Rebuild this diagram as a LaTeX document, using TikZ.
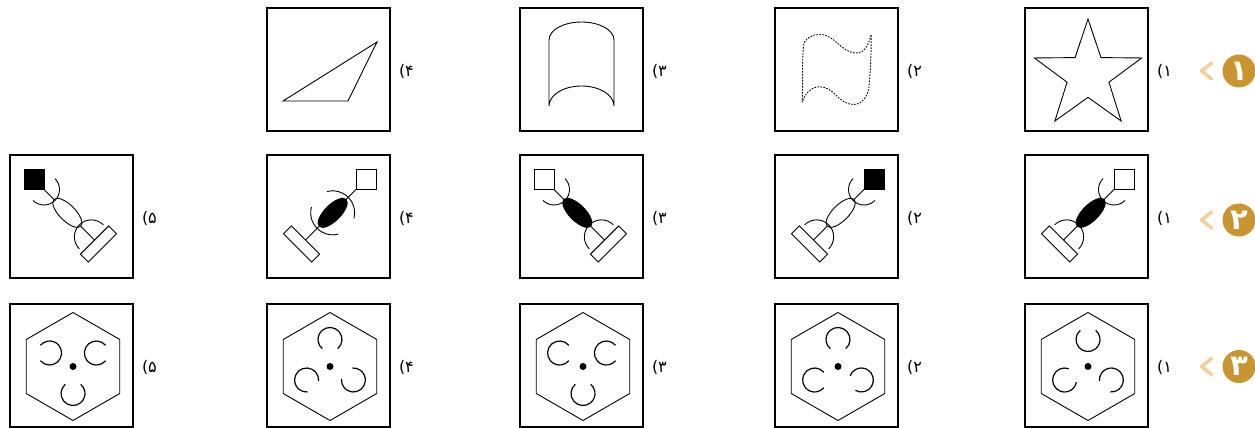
\documentclass[tikz,border=0pt]{standalone}
\usepackage{fontspec}
\newfontfamily\arabicfont[Script=Arabic]{DejaVu Sans}
\newfontfamily\labelfont{DejaVu Sans}
\TeXXeTstate=1
\usetikzlibrary{positioning}
\definecolor{qgold}{HTML}{C99530}
\definecolor{qchev}{HTML}{F2D09C}

% key figure: mirror, square fill, ellipse fill, arcs (centre/start/delta/radius)
\newcommand{\keyfig}[4]{%
  \begin{scope}[xscale=#1, shift={(27.5,27)}]
    \draw[fig, fill=#2] (0,0) rectangle (20,20);
    \begin{scope}[rotate=45]
      \draw[fig] (0,0) -- (-71.5,0);
      \draw[fig, fill=#3] (-33,0) ellipse [x radius=19, y radius=8];
      \draw[fig, fill=white] (-82.5,-20) rectangle (-71.5,20);
      \foreach \c/\a/\d/\r in {#4}
        \draw[fig] (\c,0) ++(\a:\r) arc[start angle=\a, delta angle=\d, radius=\r];
    \end{scope}
  \end{scope}}

% hexagon figure: list of arc position/gap direction
\newcommand{\hexfig}[1]{%
  \begin{scope}[shift={(1.5,-1)}]
    \draw[fig] (90:54) \foreach \a in {150,210,270,330} {-- (\a:54)} -- (30:54) -- cycle;
    \fill (0,0) circle[radius=3.5];
    \foreach \p/\g in {#1}
      \draw[fig, line width=1.2pt, shift={(\p:27)}] (\g+40:12) arc[start angle=\g+40, delta angle=280, radius=12];
  \end{scope}}

\begin{document}
\begin{tikzpicture}[x=1pt, y=1pt,
    optbox/.style={draw, line width=1.6pt, minimum size=123pt, inner sep=0pt},
    fig/.style={line width=0.9pt},
    optlabel/.style={font=\labelfont\fontsize{16}{16}\selectfont, inner sep=0pt},
    badge/.style={circle, fill=qgold, text=white, minimum size=33pt, inner sep=0pt,
      font=\arabicfont\bfseries\fontsize{29}{29}\selectfont},
    chev/.style={qchev, line width=3.5pt, line cap=round, line join=round}]
  \useasboundingbox (0,0) rectangle (1255,428);

  % boxes
  \foreach \c/\x in {1/1086.5,2/836.5,3/581.5,4/328.5}
    \node[optbox] (b1\c) at (\x,358.5) {};
  \foreach \r/\y in {2/211.5,3/62.5}
    \foreach \c/\x in {1/1086.5,2/836.5,3/581.5,4/328.5,5/71.5}
      \node[optbox] (b\r\c) at (\x,\y) {};

  % labels
  \node[optlabel, right=8pt of b11, yshift=-2pt] (l11) {(۱};
  \node[optlabel, right=8pt of b12, yshift=-2pt] (l12) {(۲};
  \node[optlabel, right=8pt of b13, yshift=-2pt] (l13) {(۳};
  \node[optlabel, right=8pt of b14, yshift=-2pt] (l14) {(۴};
  \node[optlabel, right=8pt of b21, yshift=-2pt] (l21) {(۱};
  \node[optlabel, right=8pt of b22, yshift=-2pt] (l22) {(۲};
  \node[optlabel, right=8pt of b23, yshift=-2pt] (l23) {(۳};
  \node[optlabel, right=8pt of b24, yshift=-2pt] (l24) {(۴};
  \node[optlabel, right=8pt of b25, yshift=-2pt] (l25) {(۵};
  \node[optlabel, right=8pt of b31, yshift=-2pt] (l31) {(۱};
  \node[optlabel, right=8pt of b32, yshift=-2pt] (l32) {(۲};
  \node[optlabel, right=8pt of b33, yshift=-2pt] (l33) {(۳};
  \node[optlabel, right=8pt of b34, yshift=-2pt] (l34) {(۴};
  \node[optlabel, right=8pt of b35, yshift=-2pt] (l35) {(۵};

  % question badges
  \node[badge] (q1) at (1239,357) {۱};
  \node[badge] (q2) at (1239,208) {۲};
  \node[badge] (q3) at (1239,61.5) {۳};
  \foreach \q in {q1,q2,q3}
    \draw[chev] ([shift={(-27.5,8)}]\q.center) -- ([shift={(-37.5,0)}]\q.center) -- ([shift={(-27.5,-8)}]\q.center);

  % row 1
  \begin{scope}[shift={(b11.center)}]
    \draw[fig, shift={(1.5,-5.9)}] (90:56.4) \foreach \a in {1,...,4} {-- ({54+72*\a}:22) -- ({90+72*\a}:56.4)} -- (54:22) -- cycle;
  \end{scope}
  \begin{scope}[shift={(b12.center)}]
    \draw[fig, dash pattern=on 1.6pt off 1.4pt] (-34.5,-33) .. controls (-33,-8) and (-35,10) .. (-32.5,26.5)
      to[out=60,in=180] (-17,35) to[out=0,in=175] (19,16.5) to[out=-5,in=-105] (34.7,35)
      to[out=-90,in=85] (32.4,-18.3) to[out=-100,in=0] (16.8,-35) to[out=180,in=0] (-16.8,-17.3)
      to[out=180,in=70] (-34.5,-33);
  \end{scope}
  \begin{scope}[shift={(b13.center)}]
    \draw[fig] (-32.5,-36.5) -- (-32.5,29.5) arc[start angle=180, end angle=0, x radius=32.5, y radius=18]
      -- (32.5,-36.5) arc[start angle=0, end angle=180, x radius=32.5, y radius=20];
  \end{scope}
  \begin{scope}[shift={(b14.center)}]
    \draw[fig] (-45.5,-31.5) -- (19.5,-31.5) -- (48.5,27.5) -- cycle;
  \end{scope}

  % row 2
  \begin{scope}[shift={(b21.center)}]
    \keyfig{1}{white}{black}{0/90/180/15.5, -67/-90/180/17}
  \end{scope}
  \begin{scope}[shift={(b22.center)}]
    \keyfig{1}{black}{white}{0/90/180/15.5, -67/-90/180/17}
  \end{scope}
  \begin{scope}[shift={(b23.center)}]
    \keyfig{-1}{white}{black}{0/90/180/15.5, -67/-90/180/17}
  \end{scope}
  \begin{scope}[shift={(b24.center)}]
    \keyfig{1}{white}{black}{-33/-60/120/22, -33/120/120/22}
  \end{scope}
  \begin{scope}[shift={(b25.center)}]
    \keyfig{-1}{black}{white}{0/90/180/15.5, -67/-90/180/17}
  \end{scope}

  % row 3
  \begin{scope}[shift={(b31.center)}]
    \hexfig{90/90, 210/30, 330/225}
  \end{scope}
  \begin{scope}[shift={(b32.center)}]
    \hexfig{90/270, 210/0, 330/200}
  \end{scope}
  \begin{scope}[shift={(b33.center)}]
    \hexfig{150/0, 30/0, 270/90}
  \end{scope}
  \begin{scope}[shift={(b34.center)}]
    \hexfig{90/270, 210/315, 330/135}
  \end{scope}
  \begin{scope}[shift={(b35.center)}]
    \hexfig{150/180, 30/0, 270/90}
  \end{scope}
\end{tikzpicture}
\end{document}
